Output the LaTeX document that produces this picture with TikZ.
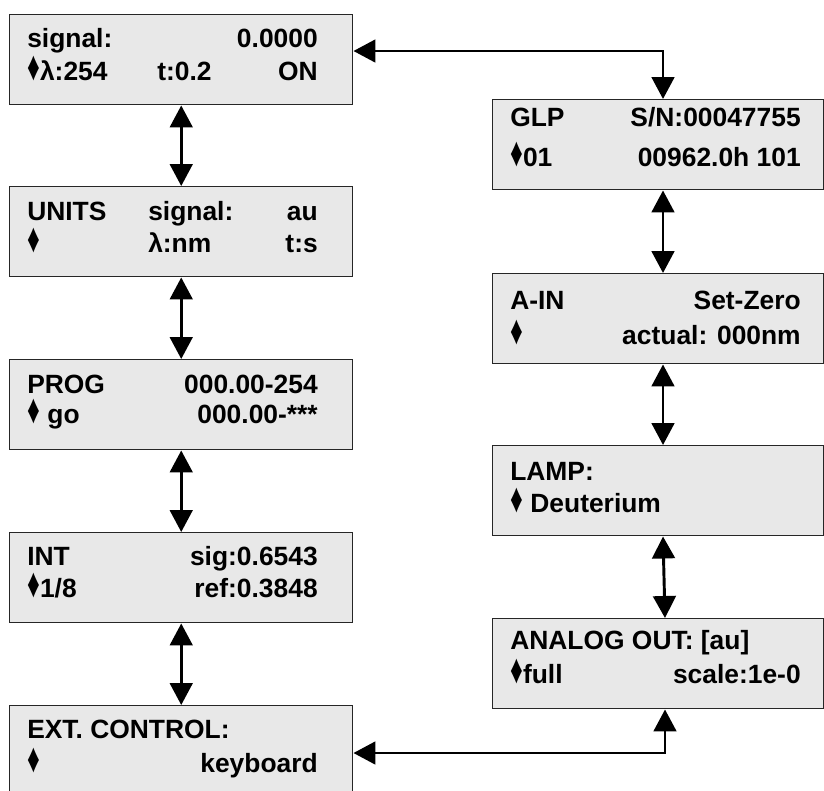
\documentclass[tikz,border=0pt]{standalone}
\usepackage{fontspec}
\usepackage{graphicx}
\usepackage{xcolor}
\setmainfont{Liberation Sans}
\usetikzlibrary{arrows.meta}
\definecolor{lcdgray}{RGB}{232,232,232}
\newcommand{\lcdsel}{\raisebox{0pt}[0.7em][0pt]{\scalebox{0.95}[1.55]{\char"2666}}}

\begin{document}
\begin{tikzpicture}[x=0.75pt,y=0.75pt,yscale=-1,xscale=1,
  lcd/.style={draw=black!85, line width=1.1pt, fill=lcdgray, anchor=north west, inner sep=0, minimum height=67.5pt},
  lcdl/.style={lcd, minimum width=257.25pt},
  lcdr/.style={lcd, minimum width=248.25pt},
  txt/.style={inner sep=0, font=\bfseries\fontsize{19.8}{23}\selectfont},
  link/.style={line width=2.2pt, {Triangle[length=16.5pt,width=17pt]}-{Triangle[length=16.5pt,width=17pt]}}]
\useasboundingbox (0,0) rectangle (824,790);

%Shape: Rectangle [left column]
\node[lcdl] (sig) at (9,14) {};
\node[lcdl] (units) at (9,186) {};
\node[lcdl] (prog) at (9,359) {};
\node[lcdl] (int) at (9,532) {};
\node[lcdl] (ext) at (9,705) {};
%Shape: Rectangle [right column]
\node[lcdr] (glp) at (492,99) {};
\node[lcdr] (ain) at (492,273) {};
\node[lcdr] (lamp) at (492,445) {};
\node[lcdr] (aout) at (492,618) {};

%Straight Lines [left column]
\draw[link] (sig.south) -- (units.north);
\draw[link] (units.south) -- (prog.north);
\draw[link] (prog.south) -- (int.north);
\draw[link] (int.south) -- (ext.north);
%Straight Lines [right column]
\coordinate (topbend) at (663,51);
\coordinate (botbend) at (665,753);
\draw[link] (sig.east |- topbend) -- (topbend) -- (glp.north -| topbend);
\draw[link] (glp.south -| topbend) -- (ain.north -| topbend);
\draw[link] (ain.south -| topbend) -- (lamp.north -| topbend);
\draw[link] (lamp.south -| topbend) -- (aout.north -| botbend);
\draw[link] (ext.east |- botbend) -- (botbend) -- (aout.south -| botbend);

% Text Node
\node[txt, anchor=base west] (sig-a) at (27,47) {signal:};
\node[txt, anchor=base east] (sig-b) at (318,47) {0.0000};
\node[txt, anchor=base west] (sig-c) at (27,80) {\lcdsel λ:254};
\node[txt, anchor=base west] (sig-d) at (157,80) {t:0.2};
\node[txt, anchor=base east] (sig-e) at (318,80) {ON};
% Text Node
\node[txt, anchor=base west] (units-a) at (27,220) {UNITS};
\node[txt, anchor=base west] (units-b) at (148,220) {signal:};
\node[txt, anchor=base east] (units-c) at (318,220) {au};
\node[txt, anchor=base west] (units-d) at (27,252) {\lcdsel};
\node[txt, anchor=base west] (units-e) at (148,252) {λ:nm};
\node[txt, anchor=base east] (units-f) at (318,252) {t:s};
% Text Node
\node[txt, anchor=base west] (prog-a) at (27,393) {PROG};
\node[txt, anchor=base east] (prog-b) at (318,393) {000.00-254};
\node[txt, anchor=base west] (prog-c) at (27,423) {\lcdsel\ go};
\node[txt, anchor=base east] (prog-d) at (318,423) {000.00-***};
% Text Node
\node[txt, anchor=base west] (int-a) at (27,565) {INT};
\node[txt, anchor=base east] (int-b) at (318,565) {sig:0.6543};
\node[txt, anchor=base west] (int-c) at (27,597) {\lcdsel 1/8};
\node[txt, anchor=base east] (int-d) at (318,597) {ref:0.3848};
% Text Node
\node[txt, anchor=base west] (ext-a) at (27,738) {EXT. CONTROL:};
\node[txt, anchor=base west] (ext-b) at (27,772) {\lcdsel};
\node[txt, anchor=base east] (ext-c) at (318,772) {keyboard};
% Text Node
\node[txt, anchor=base west] (glp-a) at (510,126) {GLP};
\node[txt, anchor=base east] (glp-b) at (801,126) {S/N:00047755};
\node[txt, anchor=base west] (glp-c) at (510,166) {\lcdsel 01};
\node[txt, anchor=base east] (glp-d) at (801,166) {00962.0h 101};
% Text Node
\node[txt, anchor=base west] (ain-a) at (510,309) {A-IN};
\node[txt, anchor=base east] (ain-b) at (801,309) {Set-Zero};
\node[txt, anchor=base west] (ain-c) at (510,344) {\lcdsel};
\node[txt, anchor=base east] (ain-d) at (801,344) {actual: 000nm};
% Text Node
\node[txt, anchor=base west] (lamp-a) at (510,480) {LAMP:};
\node[txt, anchor=base west] (lamp-b) at (510,512) {\lcdsel\ Deuterium};
% Text Node
\node[txt, anchor=base west] (aout-a) at (510,649) {ANALOG OUT: [au]};
\node[txt, anchor=base west] (aout-b) at (510,683) {\lcdsel full};
\node[txt, anchor=base east] (aout-c) at (801,683) {scale:1e-0};
\end{tikzpicture}
\end{document}
